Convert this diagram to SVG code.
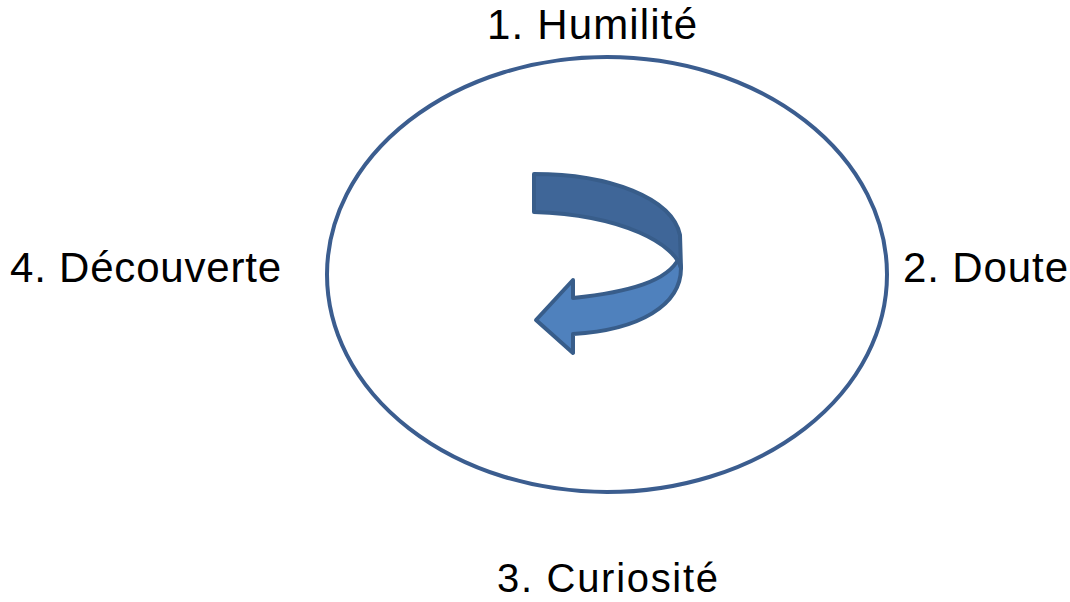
<svg xmlns="http://www.w3.org/2000/svg" width="1070" height="602" viewBox="0 0 1070 602">
<style>
.lbl{font-family:"Liberation Sans",Arial,sans-serif;font-size:42px;fill:#000}
.ring{fill:none;stroke:#3B5D8F;stroke-width:4}
.arr{stroke:#385D8A;stroke-width:4;stroke-linejoin:round}
</style>
<rect width="1070" height="602" fill="#fff"/>
<g id="cycle">
<ellipse class="ring" cx="607" cy="274.5" rx="280" ry="217.5"/>
</g>
<g id="arrow">
<path class="arr" fill="#4F81BD" d="M679,258 C668,281 630,292 573,298 L573,280 L536,320 L573,353 L573,334 C640,330 681,305 681,268 Z"/>
<path class="arr" fill="#3F6698" d="M534,174 C610,174 672,198 680,235 L681,268 C675,245 625,215 534,212 Z"/>
</g>
<g id="n1"><text class="lbl" x="592" y="39" text-anchor="middle" textLength="210">1. Humilité</text></g>
<g id="n2"><text class="lbl" x="903" y="282" textLength="165">2. Doute</text></g>
<g id="n3"><text class="lbl" x="497" y="592" textLength="221" style="font-size:40px">3. Curiosité</text></g>
<g id="n4"><text class="lbl" x="10" y="282" textLength="271">4. Découverte</text></g>
</svg>
